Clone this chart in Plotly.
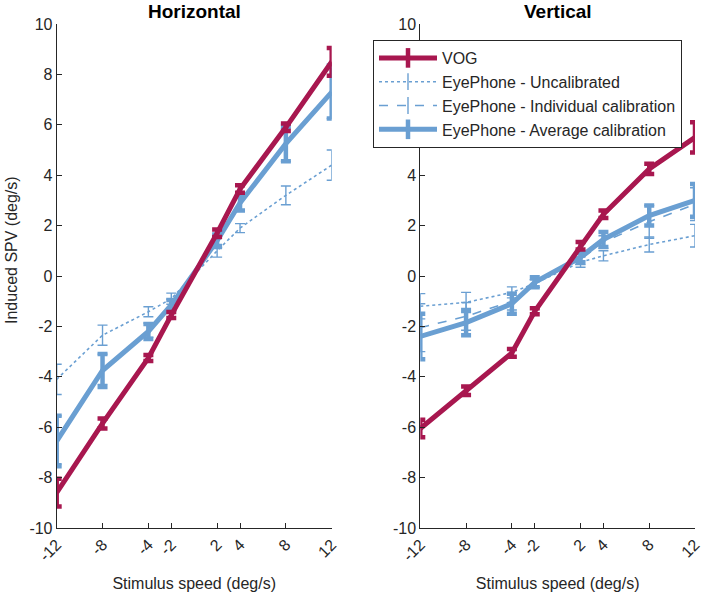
import plotly.graph_objects as go

speeds = [-12, -8, -4, -2, 2, 4, 8, 12]
tick_vals = [-12, -8, -4, -2, 2, 4, 8, 12]
tick_text = ["-12", "-8", "-4", "-2", "2", "4", "8", "12"]
y_ticks = list(range(-10, 11, 2))
y_text = [str(v) for v in y_ticks]

# Horizontal panel
h_vog = [-8.6, -5.85, -3.25, -1.55, 1.7, 3.45, 5.9, 8.5]
h_vog_err = [0.55, 0.2, 0.12, 0.12, 0.15, 0.15, 0.15, 0.55]
h_uncal = [-4.1, -2.35, -1.42, -0.9, 1.0, 1.9, 3.2, 4.4]
h_uncal_err = [0.6, 0.4, 0.2, 0.22, 0.25, 0.18, 0.37, 0.6]
h_indiv = [-6.5, -3.7, -2.15, -1.1, 1.35, 2.85, 5.2, 7.25]
h_indiv_err = [0.95, 0.6, 0.28, 0.18, 0.22, 0.28, 0.65, 1.0]
h_avg = [-6.55, -3.75, -2.2, -1.15, 1.4, 2.9, 5.25, 7.3]
h_avg_err = [1.0, 0.65, 0.3, 0.2, 0.25, 0.3, 0.7, 1.05]

# Vertical panel
v_vog = [-6.05, -4.55, -3.05, -1.4, 1.2, 2.45, 4.25, 5.5]
v_vog_err = [0.35, 0.17, 0.15, 0.12, 0.15, 0.15, 0.2, 0.6]
v_uncal = [-1.2, -1.05, -0.65, -0.3, 0.55, 0.8, 1.25, 1.6]
v_uncal_err = [0.5, 0.4, 0.22, 0.15, 0.2, 0.2, 0.3, 0.45]
v_indiv = [-2.05, -1.6, -1.0, -0.3, 0.65, 1.35, 2.15, 2.85]
v_indiv_err = [0.95, 0.55, 0.35, 0.15, 0.2, 0.25, 0.65, 0.65]
v_avg = [-2.4, -1.85, -1.1, -0.25, 0.75, 1.45, 2.4, 3.0]
v_avg_err = [0.9, 0.5, 0.4, 0.2, 0.2, 0.3, 0.4, 0.65]

names = ["VOG", "EyePhone - Uncalibrated", "EyePhone - Individual calibration",
         "EyePhone - Average calibration"]

RED = "#A8174F"
BLUE = "#6A9FD2"
AX = "#262626"
FONT = "Liberation Sans, Arial, sans-serif"

styles = [
    dict(color=RED, width=5, dash="solid", cap=5, thick=4.5),
    dict(color=BLUE, width=1.6, dash="dot", cap=5, thick=1.4),
    dict(color=BLUE, width=1.6, dash="dash", cap=5, thick=1.4),
    dict(color=BLUE, width=5, dash="solid", cap=5, thick=4.5),
]

fig = go.Figure()

panels = [
    ("x", "y", [h_uncal, h_indiv, h_avg, h_vog], [h_uncal_err, h_indiv_err, h_avg_err, h_vog_err]),
    ("x2", "y2", [v_uncal, v_indiv, v_avg, v_vog], [v_uncal_err, v_indiv_err, v_avg_err, v_vog_err]),
]
order = [1, 2, 3, 0]
for xa, ya, vals, errs in panels:
    for k, si in enumerate(order):
        s = styles[si]
        fig.add_trace(go.Scatter(
            x=speeds, y=vals[k], mode="lines", xaxis=xa, yaxis=ya,
            line=dict(color=s["color"], width=s["width"], dash=s["dash"]),
            error_y=dict(type="data", array=errs[k], visible=True, color=s["color"],
                         thickness=s["thick"], width=s["cap"]),
            showlegend=False, cliponaxis=False, hoverinfo="skip",
        ))

# legend entries
for i, s in enumerate(styles):
    fig.add_trace(go.Scatter(
        x=[None], y=[None], mode="lines+markers", xaxis="x2", yaxis="y2",
        name=names[i],
        line=dict(color=s["color"], width=s["width"], dash=s["dash"]),
        marker=dict(symbol="line-ns", size=14 if s["width"] > 3 else 12,
                    line=dict(color=s["color"], width=s["thick"])),
        showlegend=True,
    ))

xd1 = [56.7 / 709, 331.7 / 709]
xd2 = [420.3 / 709, 695 / 709]
yd = [1 - 528 / 598, 1 - 24 / 598]

axis_common = dict(
    showline=True, linecolor=AX, linewidth=1, ticks="inside", ticklen=5,
    tickcolor=AX, tickwidth=1, showgrid=False, zeroline=False, automargin=False,
    tickfont=dict(family=FONT, size=16, color=AX),
)
xcommon = dict(axis_common, range=[-12, 12], tickvals=tick_vals, ticktext=tick_text,
               tickangle=-45,
               title=dict(text="Stimulus speed (deg/s)", font=dict(family=FONT, size=16, color=AX),
                          standoff=14))
ycommon = dict(axis_common, range=[-10, 10], tickvals=y_ticks, ticktext=y_text, domain=yd)

fig.update_layout(
    width=709, height=598,
    margin=dict(l=0, r=0, t=0, b=0, autoexpand=False),
    paper_bgcolor="white", plot_bgcolor="white",
    xaxis=dict(xcommon, domain=xd1, anchor="y"),
    yaxis=dict(ycommon, anchor="x"),
    xaxis2=dict(xcommon, domain=xd2, anchor="y2"),
    yaxis2=dict(ycommon, anchor="x2"),
    legend=dict(x=373 / 709, y=1 - 40 / 598, xanchor="left", yanchor="top",
                bgcolor="white", bordercolor=AX, borderwidth=1,
                font=dict(family=FONT, size=16, color=AX), itemwidth=58,
                tracegroupgap=0),
    annotations=[
        dict(text="<b>Horizontal</b>", x=(xd1[0] + xd1[1]) / 2, y=1 - 12 / 598,
             xref="paper", yref="paper", showarrow=False, xanchor="center",
             font=dict(family=FONT, size=19, color="black"), yanchor="middle"),
        dict(text="<b>Vertical</b>", x=(xd2[0] + xd2[1]) / 2, y=1 - 12 / 598,
             xref="paper", yref="paper", showarrow=False, xanchor="center",
             font=dict(family=FONT, size=19, color="black"), yanchor="middle"),
        dict(text="Induced SPV (deg/s)", x=12 / 709, y=1 - 250 / 598,
             xref="paper", yref="paper", showarrow=False, textangle=-90,
             xanchor="center", yanchor="middle",
             font=dict(family=FONT, size=16, color=AX)),
    ],
)

fig.write_html("out.html", config={"displayModeBar": False},
               post_script="document.body.style.margin='0';")
